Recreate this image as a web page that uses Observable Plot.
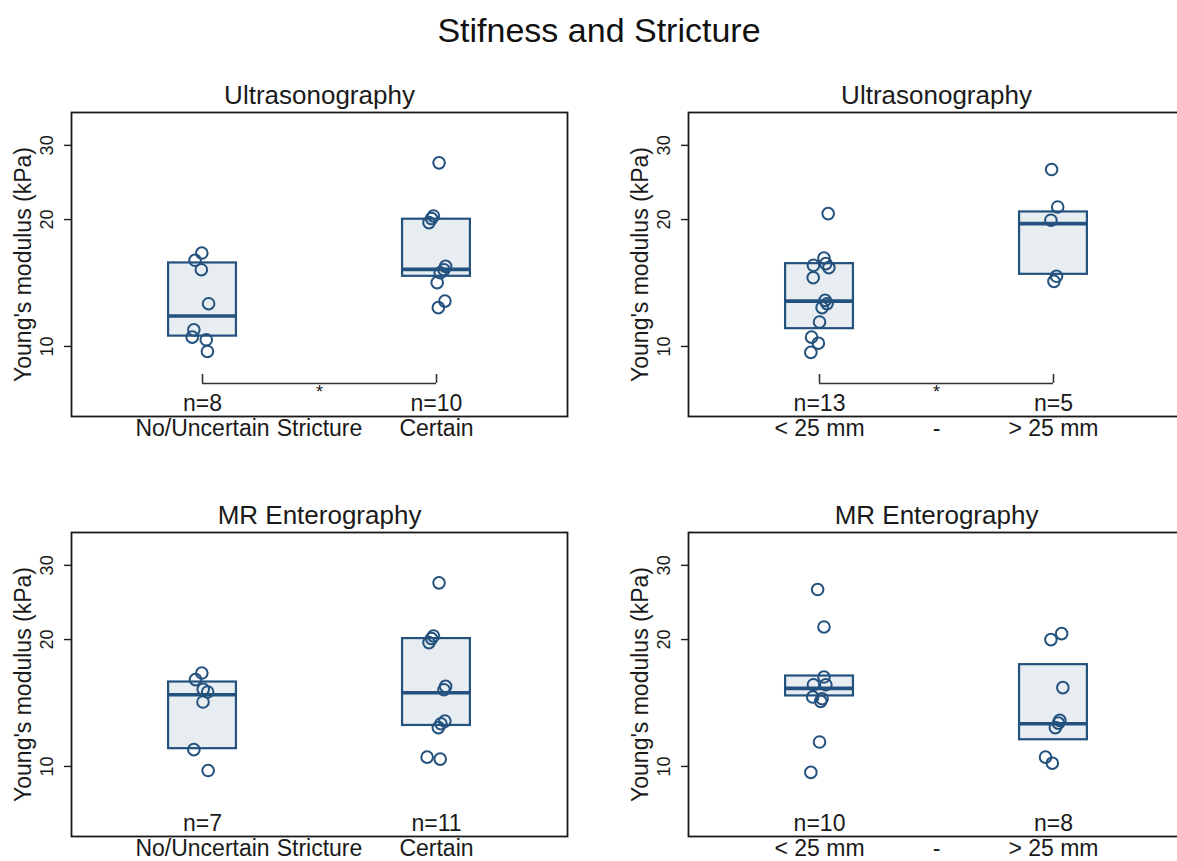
<!DOCTYPE html>
<html>
<head>
<meta charset="utf-8">
<script src="https://cdn.jsdelivr.net/npm/d3@7"></script>
<script src="https://cdn.jsdelivr.net/npm/@observablehq/plot@0.6"></script>
<style>
  html, body { margin: 0; padding: 0; background: #fff; overflow: hidden; }
  #root { position: relative; width: 1177px; height: 861px; overflow: hidden; }
  #title { position: absolute; left: 0; width: 1198px; top: 11px; text-align: center;
           font-family: "Liberation Sans", Arial, Helvetica, sans-serif; font-size: 34px; line-height: 38px; color: #111; }
  .panel { position: absolute; }
</style>
</head>
<body>
<div id="root">
  <div id="title">Stifness and Stricture</div>
</div>
<script>
// ---------- data ----------
const strictureLabels = ["No/Uncertain", "Stricture", "Certain"];
const lengthLabels = ["< 25 mm", "-", "> 25 mm"];
const yTicks = [10, 20, 30];

// Ultrasonography – stricture
const usStrNo = [16.66, 16.01, 15.21, 12.63, 10.95, 10.52, 10.37, 9.73];
const usStrNoJit = [-0.003, -0.032, -0.005, 0.026, -0.037, -0.044, 0.016, 0.021];
const usStrYes = [27.27, 20.40, 20.11, 19.67, 15.49, 15.21, 14.96, 14.17, 12.81, 12.36];
const usStrYesJit = [0.011, -0.013, -0.021, -0.032, 0.039, 0.032, 0.016, 0.003, 0.036, 0.008];
const usStrQ1 = [10.58, 14.67];
const usStrMed = [11.81, 15.24];
const usStrQ3 = [15.78, 20.04];
const usStrN = ["n=8", "n=10"];

// Ultrasonography – length
const usLenShort = [20.66, 16.21, 15.57, 15.72, 15.38, 14.56, 12.86, 12.63, 12.36, 11.43, 10.52, 10.18, 9.68];
const usLenShortJit = [0.037, 0.019, -0.026, 0.027, 0.040, -0.027, 0.024, 0.032, 0.011, 0, -0.034, -0.005, -0.037];
const usLenLong = [26.29, 21.43, 19.93, 14.67, 14.27];
const usLenLongJit = [-0.008, 0.018, -0.011, 0.013, 0.002];
const usLenQ1 = [11.02, 14.83];
const usLenMed = [12.81, 19.56];
const usLenQ3 = [15.72, 20.85];
const usLenN = ["n=13", "n=5"];

// MR Enterography – stricture
const mrStrNo = [16.66, 16.07, 15.24, 15.02, 14.22, 10.96, 9.78];
const mrStrNoJit = [-0.003, -0.030, 0.003, 0.022, 0.002, -0.037, 0.024];
const mrStrYes = [27.27, 20.40, 20.11, 19.67, 15.49, 15.21, 12.81, 12.63, 12.36, 10.52, 10.41];
const mrStrYesJit = [0.011, -0.013, -0.021, -0.032, 0.039, 0.032, 0.036, 0.019, 0.008, -0.040, 0.016];
const mrStrQ1 = [11.02, 12.51];
const mrStrMed = [14.80, 14.96];
const mrStrQ3 = [15.86, 20.11];
const mrStrN = ["n=7", "n=11"];

// MR Enterography – length
const mrLenShort = [26.29, 21.43, 16.30, 15.63, 15.63, 14.61, 14.48, 14.27, 11.43, 9.68];
const mrLenShortJit = [-0.008, 0.019, 0.019, -0.026, 0.027, -0.029, 0.011, 0.005, 0, -0.037];
const mrLenLong = [20.00, 20.66, 15.38, 12.86, 12.67, 12.36, 10.52, 10.18];
const mrLenLongJit = [-0.011, 0.035, 0.040, 0.027, 0.021, 0.008, -0.034, -0.005];
const mrLenQ1 = [14.70, 11.57];
const mrLenMed = [15.32, 12.63];
const mrLenQ3 = [16.39, 17.44];
const mrLenN = ["n=10", "n=8"];

// ---------- drawing ----------
const FONT = '"Liberation Sans", Arial, Helvetica, sans-serif';
const NAVY = "#24527f";
const FILL = "#e8edf2";
const INK = "#1a1a1a";
const HW = 0.145;          // half box width in category units
const BRACKET = [8.17, 8.58];

function panel(opts) {
  const pts = [];
  opts.groups.forEach(([vals, jit], gi) =>
    vals.forEach((v, i) => pts.push({x: gi + 1 + jit[i], y: v})));
  const boxes = [0, 1].map(i => ({x: i + 1, q1: opts.q1[i], med: opts.med[i], q3: opts.q3[i], n: opts.n[i]}));
  const lab = opts.labels;
  const marks = [
    Plot.rect(boxes, {x1: d => d.x - HW, x2: d => d.x + HW, y1: "q1", y2: "q3",
      fill: FILL, stroke: NAVY, strokeWidth: 2.2}),
    Plot.ruleY(boxes, {y: "med", x1: d => d.x - HW, x2: d => d.x + HW, stroke: NAVY, strokeWidth: 3.6}),
    Plot.dot(pts, {x: "x", y: "y", r: 5.8, stroke: NAVY, strokeWidth: 2, fill: "none"}),
    Plot.frame({stroke: INK, strokeWidth: 1.8}),
    Plot.axisY({ticks: yTicks, tickSize: 7, tickFormat: () => "", label: null, stroke: INK, strokeWidth: 1.4}),
    Plot.text(yTicks, {y: d => d, text: d => String(d), frameAnchor: "left", dx: -24, rotate: -90,
      textAnchor: "middle", lineAnchor: "middle", fontSize: 18, fill: INK}),
    Plot.text(["Young's modulus (kPa)"], {text: d => d, frameAnchor: "left", dx: -48, rotate: -90,
      textAnchor: "middle", lineAnchor: "middle", fontSize: 23, fill: INK}),
    Plot.text([opts.title], {text: d => d, frameAnchor: "top", dy: -17, lineAnchor: "middle",
      fontSize: 26, fill: INK}),
    Plot.axisX({ticks: [1, 1.5, 2], tickSize: 0, tickPadding: 3, fontSize: 23, fill: INK, label: null,
      tickFormat: d => d === 1 ? lab[0] : d === 2 ? lab[2] : lab[1]}),
    Plot.text(boxes, {x: "x", text: "n", frameAnchor: "bottom", dy: -13, lineAnchor: "middle",
      fontSize: 23, fill: INK})
  ];
  if (opts.bracket) {
    marks.push(
      Plot.ruleY([BRACKET[0]], {y: d => d, x1: 1, x2: 2, stroke: "#333", strokeWidth: 1.6}),
      Plot.ruleX([1, 2], {x: d => d, y1: BRACKET[0], y2: BRACKET[1], stroke: "#333", strokeWidth: 1.6}),
      Plot.text(["*"], {text: d => d, x: 1.5, y: BRACKET[0], dy: 9, fontSize: 18, fill: INK})
    );
  }
  const svg = Plot.plot({
    width: opts.width, height: 390,
    marginLeft: opts.marginLeft, marginRight: 23, marginTop: 52, marginBottom: 34,
    x: {domain: [0.44, 2.56]},
    y: {type: "log", domain: [6.82, 35.9]},
    style: {fontFamily: FONT, fontSize: "20px", color: INK, background: "transparent", overflow: "visible"},
    marks
  });
  svg.classList.add("panel");
  svg.style.left = opts.left + "px";
  svg.style.top = opts.top + "px";
  document.getElementById("root").appendChild(svg);
}

panel({title: "Ultrasonography", labels: strictureLabels, left: 0, top: 60, width: 590, marginLeft: 71,
  groups: [[usStrNo, usStrNoJit], [usStrYes, usStrYesJit]], q1: usStrQ1, med: usStrMed, q3: usStrQ3,
  n: usStrN, bracket: true});
panel({title: "Ultrasonography", labels: lengthLabels, left: 590, top: 60, width: 617, marginLeft: 98,
  groups: [[usLenShort, usLenShortJit], [usLenLong, usLenLongJit]], q1: usLenQ1, med: usLenMed, q3: usLenQ3,
  n: usLenN, bracket: true});
panel({title: "MR Enterography", labels: strictureLabels, left: 0, top: 480, width: 590, marginLeft: 71,
  groups: [[mrStrNo, mrStrNoJit], [mrStrYes, mrStrYesJit]], q1: mrStrQ1, med: mrStrMed, q3: mrStrQ3,
  n: mrStrN, bracket: false});
panel({title: "MR Enterography", labels: lengthLabels, left: 590, top: 480, width: 617, marginLeft: 98,
  groups: [[mrLenShort, mrLenShortJit], [mrLenLong, mrLenLongJit]], q1: mrLenQ1, med: mrLenMed, q3: mrLenQ3,
  n: mrLenN, bracket: false});
</script>
</body>
</html>
